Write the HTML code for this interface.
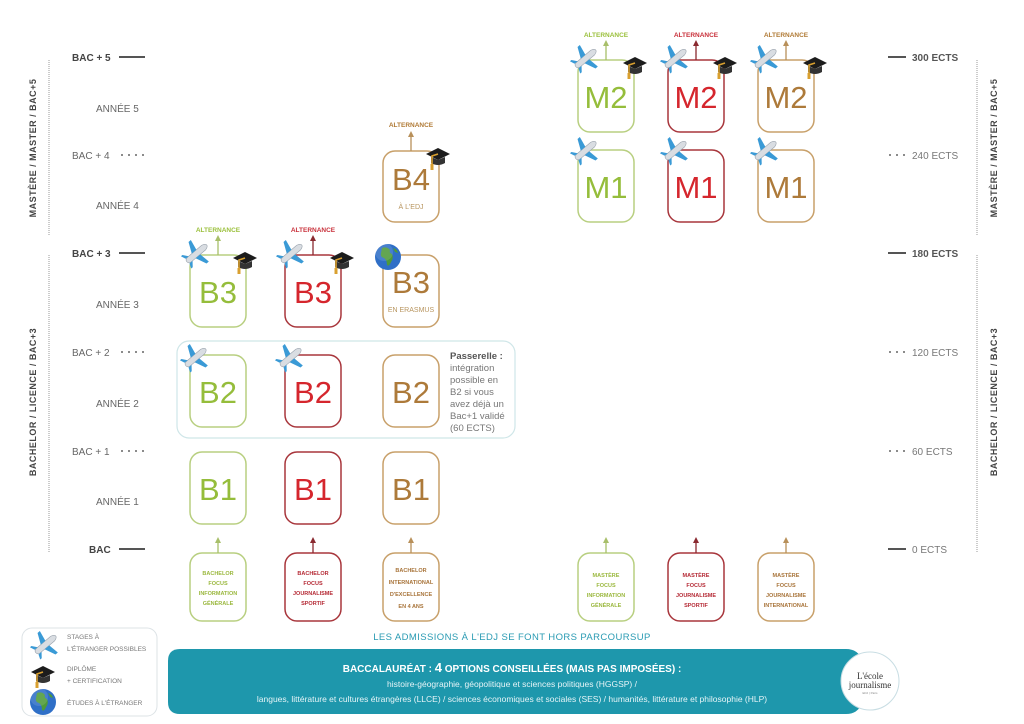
<!DOCTYPE html>
<html><head><meta charset="utf-8"><style>
html,body{margin:0;padding:0;background:#fff;}
svg{display:block;font-family:"Liberation Sans",sans-serif;}
</style></head><body>
<svg width="1024" height="724" viewBox="0 0 1024 724" xmlns="http://www.w3.org/2000/svg">
<defs>
<g id="plane">
 <g transform="rotate(-40 14 14)">
  <path d="M2 14 Q2 11 6 11 L24 11 Q28 12 28 14 Q28 16 24 17 L6 17 Q2 17 2 14Z" fill="#d9dde2" stroke="#9aa3ad" stroke-width="0.6"/>
  <path d="M11 11 L16 0 L19 0 L17 11Z M11 17 L16 28 L19 28 L17 17Z" fill="#3a9ad6"/>
  <path d="M3 11 L1 6 L3 6 L7 11Z M3 17 L1 22 L3 22 L7 17Z" fill="#3a9ad6"/>
 </g>
</g>
<g id="cap">
 <path d="M2 10 L14 4 L26 10 L14 16Z" fill="#1c1c1c"/>
 <path d="M7 13 L7 19 Q14 23 21 19 L21 13 L14 16Z" fill="#333"/>
 <path d="M14 10 L8 12 L8 22" stroke="#d9a030" stroke-width="1.6" fill="none"/>
 <rect x="6.5" y="20" width="3" height="6" fill="#d9a030"/>
</g>
<g id="globe">
 <circle cx="14" cy="14" r="13" fill="#2f6fc7"/>
 <path d="M8 5 Q13 3 16 7 Q15 10 18 11 Q20 15 17 19 Q15 24 13 22 Q13 17 10 15 Q6 14 7 10Z" fill="#4e9a3a"/>
 <path d="M19 5 Q23 6 24 10 L21 9Z" fill="#4e9a3a"/>
 <circle cx="10" cy="9" r="9" fill="#fff" opacity="0.12"/>
</g>
</defs>

<!-- side dotted lines -->
<g stroke="#999" stroke-width="1" stroke-dasharray="1 1">
 <line x1="49" y1="60" x2="49" y2="236"/>
 <line x1="49" y1="255" x2="49" y2="552"/>
 <line x1="977" y1="60" x2="977" y2="236"/>
 <line x1="977" y1="255" x2="977" y2="552"/>
</g>
<g font-size="9" font-weight="bold" fill="#444" text-anchor="middle" letter-spacing="0.5">
 <text transform="translate(36 148) rotate(-90)">MASTÈRE / MASTER / BAC+5</text>
 <text transform="translate(36 402) rotate(-90)">BACHELOR / LICENCE / BAC+3</text>
 <text transform="translate(997 148) rotate(-90)">MASTÈRE / MASTER / BAC+5</text>
 <text transform="translate(997 402) rotate(-90)">BACHELOR / LICENCE / BAC+3</text>
</g>

<!-- left scale -->
<g font-size="10" fill="#444">
 <text x="72" y="61" font-weight="bold">BAC + 5</text>
 <text x="72" y="257" font-weight="bold">BAC + 3</text>
 <text x="89" y="553" font-weight="bold">BAC</text>
 <g fill="#666">
 <text x="72" y="159">BAC + 4</text>
 <text x="72" y="356">BAC + 2</text>
 <text x="72" y="455">BAC + 1</text>
 <text x="96" y="112">ANNÉE 5</text>
 <text x="96" y="209">ANNÉE 4</text>
 <text x="96" y="308">ANNÉE 3</text>
 <text x="96" y="407">ANNÉE 2</text>
 <text x="96" y="505">ANNÉE 1</text>
 </g>
</g>
<g stroke="#555" stroke-width="2">
 <line x1="119" y1="57" x2="145" y2="57"/>
 <line x1="119" y1="253" x2="145" y2="253"/>
 <line x1="119" y1="549" x2="145" y2="549"/>
 <line x1="888" y1="57" x2="906" y2="57"/>
 <line x1="888" y1="253" x2="906" y2="253"/>
 <line x1="888" y1="549" x2="906" y2="549"/>
</g>
<g fill="#666">
 <circle cx="122" cy="155" r="1"/><circle cx="129" cy="155" r="1"/><circle cx="136" cy="155" r="1"/><circle cx="143" cy="155" r="1"/>
 <circle cx="122" cy="352" r="1"/><circle cx="129" cy="352" r="1"/><circle cx="136" cy="352" r="1"/><circle cx="143" cy="352" r="1"/>
 <circle cx="122" cy="451" r="1"/><circle cx="129" cy="451" r="1"/><circle cx="136" cy="451" r="1"/><circle cx="143" cy="451" r="1"/>
 <circle cx="890" cy="155" r="1"/><circle cx="897" cy="155" r="1"/><circle cx="904" cy="155" r="1"/>
 <circle cx="890" cy="352" r="1"/><circle cx="897" cy="352" r="1"/><circle cx="904" cy="352" r="1"/>
 <circle cx="890" cy="451" r="1"/><circle cx="897" cy="451" r="1"/><circle cx="904" cy="451" r="1"/>
</g>
<g font-size="10" fill="#555">
 <text x="912" y="61" font-weight="bold">300 ECTS</text>
 <text x="912" y="257" font-weight="bold">180 ECTS</text>
 <text x="912" y="159" fill="#777">240 ECTS</text>
 <text x="912" y="356" fill="#777">120 ECTS</text>
 <text x="912" y="455" fill="#777">60 ECTS</text>
 <text x="912" y="553" fill="#777">0 ECTS</text>
</g>

<!-- passerelle -->
<rect x="177" y="341" width="338" height="97" rx="12" fill="#fff" stroke="#cfe6e8" stroke-width="1.2"/>
<g font-size="9.5" fill="#777">
 <text x="450" y="359" font-weight="bold" fill="#555">Passerelle :</text>
 <text x="450" y="371">intégration</text>
 <text x="450" y="383">possible en</text>
 <text x="450" y="395">B2 si vous</text>
 <text x="450" y="407">avez déjà un</text>
 <text x="450" y="419">Bac+1 validé</text>
 <text x="450" y="431">(60 ECTS)</text>
</g>

<!-- boxes -->
<g fill="#fff" stroke-width="1.5">
 <g stroke="#b8cf80">
  <rect x="190" y="255" width="56" height="72" rx="12"/>
  <rect x="190" y="355" width="56" height="72" rx="12"/>
  <rect x="190" y="452" width="56" height="72" rx="12"/>
  <rect x="190" y="553" width="56" height="68" rx="12"/>
  <rect x="578" y="60" width="56" height="72" rx="12"/>
  <rect x="578" y="150" width="56" height="72" rx="12"/>
  <rect x="578" y="553" width="56" height="68" rx="12"/>
 </g>
 <g stroke="#a8363c">
  <rect x="285" y="255" width="56" height="72" rx="12"/>
  <rect x="285" y="355" width="56" height="72" rx="12"/>
  <rect x="285" y="452" width="56" height="72" rx="12"/>
  <rect x="285" y="553" width="56" height="68" rx="12"/>
  <rect x="668" y="60" width="56" height="72" rx="12"/>
  <rect x="668" y="150" width="56" height="72" rx="12"/>
  <rect x="668" y="553" width="56" height="68" rx="12"/>
 </g>
 <g stroke="#c8a06a">
  <rect x="383" y="151" width="56" height="71" rx="12"/>
  <rect x="383" y="255" width="56" height="72" rx="12"/>
  <rect x="383" y="355" width="56" height="72" rx="12"/>
  <rect x="383" y="452" width="56" height="72" rx="12"/>
  <rect x="383" y="553" width="56" height="68" rx="12"/>
  <rect x="758" y="60" width="56" height="72" rx="12"/>
  <rect x="758" y="150" width="56" height="72" rx="12"/>
  <rect x="758" y="553" width="56" height="68" rx="12"/>
 </g>
</g>

<g font-size="31" text-anchor="middle">
 <g fill="#95bd3b">
  <text x="218" y="303">B3</text><text x="218" y="403">B2</text><text x="218" y="500">B1</text>
  <text x="606" y="108">M2</text><text x="606" y="198">M1</text>
 </g>
 <g fill="#d5262d">
  <text x="313" y="303">B3</text><text x="313" y="403">B2</text><text x="313" y="500">B1</text>
  <text x="696" y="108">M2</text><text x="696" y="198">M1</text>
 </g>
 <g fill="#ad7a3a">
  <text x="411" y="190">B4</text><text x="411" y="293">B3</text><text x="411" y="403">B2</text><text x="411" y="500">B1</text>
  <text x="786" y="108">M2</text><text x="786" y="198">M1</text>
 </g>
</g>
<g font-size="7" fill="#b8955f" text-anchor="middle">
 <text x="411" y="209">À L'EDJ</text>
 <text x="411" y="312">EN ERASMUS</text>
</g>

<!-- programme labels -->
<g font-size="5.5" font-weight="bold" text-anchor="middle">
 <g fill="#9bb83f">
  <text x="218" y="575">BACHELOR</text><text x="218" y="585">FOCUS</text><text x="218" y="595">INFORMATION</text><text x="218" y="605">GÉNÉRALE</text>
  <text x="606" y="577">MASTÈRE</text><text x="606" y="587">FOCUS</text><text x="606" y="597">INFORMATION</text><text x="606" y="607">GÉNÉRALE</text>
 </g>
 <g fill="#b52a35">
  <text x="313" y="575">BACHELOR</text><text x="313" y="585">FOCUS</text><text x="313" y="595">JOURNALISME</text><text x="313" y="605">SPORTIF</text>
  <text x="696" y="577">MASTÈRE</text><text x="696" y="587">FOCUS</text><text x="696" y="597">JOURNALISME</text><text x="696" y="607">SPORTIF</text>
 </g>
 <g fill="#a8743a">
  <text x="411" y="572">BACHELOR</text><text x="411" y="584">INTERNATIONAL</text><text x="411" y="596">D'EXCELLENCE</text><text x="411" y="608">EN 4 ANS</text>
  <text x="786" y="577">MASTÈRE</text><text x="786" y="587">FOCUS</text><text x="786" y="597">JOURNALISME</text><text x="786" y="607">INTERNATIONAL</text>
 </g>
</g>

<!-- arrows -->
<g stroke-width="1.3" fill="none">
 <g stroke="#a8bf6a"><line x1="218" y1="255" x2="218" y2="240"/><line x1="218" y1="553" x2="218" y2="542"/><line x1="606" y1="60" x2="606" y2="45"/><line x1="606" y1="553" x2="606" y2="542"/></g>
 <g stroke="#8a2a30"><line x1="313" y1="255" x2="313" y2="240"/><line x1="313" y1="553" x2="313" y2="542"/><line x1="696" y1="60" x2="696" y2="45"/><line x1="696" y1="553" x2="696" y2="542"/></g>
 <g stroke="#b8905a"><line x1="411" y1="151" x2="411" y2="136"/><line x1="411" y1="553" x2="411" y2="542"/><line x1="786" y1="60" x2="786" y2="45"/><line x1="786" y1="553" x2="786" y2="542"/></g>
</g>
<g>
 <g fill="#a8bf6a"><path d="M215 241 L218 235 L221 241Z"/><path d="M215 543 L218 537 L221 543Z"/><path d="M603 46 L606 40 L609 46Z"/><path d="M603 543 L606 537 L609 543Z"/></g>
 <g fill="#8a2a30"><path d="M310 241 L313 235 L316 241Z"/><path d="M310 543 L313 537 L316 543Z"/><path d="M693 46 L696 40 L699 46Z"/><path d="M693 543 L696 537 L699 543Z"/></g>
 <g fill="#b8905a"><path d="M408 137 L411 131 L414 137Z"/><path d="M408 543 L411 537 L414 543Z"/><path d="M783 46 L786 40 L789 46Z"/><path d="M783 543 L786 537 L789 543Z"/></g>
</g>
<g font-size="6.5" font-weight="bold" text-anchor="middle">
 <text x="218" y="232" fill="#9bc03c">ALTERNANCE</text>
 <text x="313" y="232" fill="#c8303a">ALTERNANCE</text>
 <text x="411" y="127" fill="#b07a35">ALTERNANCE</text>
 <text x="606" y="37" fill="#9bc03c">ALTERNANCE</text>
 <text x="696" y="37" fill="#c8303a">ALTERNANCE</text>
 <text x="786" y="37" fill="#b07a35">ALTERNANCE</text>
</g>

<!-- icons -->
<use href="#plane" x="182" y="240"/>
<use href="#plane" x="277" y="240"/>
<use href="#plane" x="181" y="344"/>
<use href="#plane" x="276" y="344"/>
<use href="#plane" x="571" y="45"/>
<use href="#plane" x="661" y="45"/>
<use href="#plane" x="751" y="45"/>
<use href="#plane" x="571" y="137"/>
<use href="#plane" x="661" y="137"/>
<use href="#plane" x="751" y="137"/>
<use href="#cap" x="231" y="248"/>
<use href="#cap" x="328" y="248"/>
<use href="#cap" x="424" y="144"/>
<use href="#cap" x="621" y="53"/>
<use href="#cap" x="711" y="53"/>
<use href="#cap" x="801" y="53"/>
<use href="#globe" x="374" y="243"/>

<!-- legend -->
<rect x="22" y="628" width="135" height="88" rx="10" fill="#fff" stroke="#dde3e6" stroke-width="1"/>
<use href="#plane" x="31" y="631"/>
<use href="#cap" x="29" y="662"/>
<use href="#globe" x="29" y="688"/>
<g font-size="6.5" fill="#777">
 <text x="67" y="639">STAGES À</text>
 <text x="67" y="651">L'ÉTRANGER POSSIBLES</text>
 <text x="67" y="671">DIPLÔME</text>
 <text x="67" y="683">+ CERTIFICATION</text>
 <text x="67" y="705">ÉTUDES À L'ÉTRANGER</text>
</g>

<!-- bottom -->
<text x="512" y="640" text-anchor="middle" font-size="9.5" fill="#2a9bb3" letter-spacing="0.4">LES ADMISSIONS À L'EDJ SE FONT HORS PARCOURSUP</text>
<path d="M180 649 L846 649 Q858 649 862 660 L862 703 Q858 714 846 714 L180 714 Q168 714 168 702 L168 661 Q168 649 180 649Z" fill="#1e97ac"/>
<text x="512" y="672" text-anchor="middle" font-size="10" font-weight="bold" fill="#fff">BACCALAURÉAT : <tspan font-size="13">4</tspan> OPTIONS CONSEILLÉES (MAIS PAS IMPOSÉES) :</text>
<text x="512" y="687" text-anchor="middle" font-size="8.5" fill="#e6f4f7">histoire-géographie, géopolitique et sciences politiques (HGGSP) /</text>
<text x="512" y="702" text-anchor="middle" font-size="8.5" fill="#e6f4f7">langues, littérature et cultures étrangères (LLCE) / sciences économiques et sociales (SES) / humanités, littérature et philosophie (HLP)</text>
<circle cx="870" cy="681" r="29" fill="#fff" stroke="#c8dde3" stroke-width="1"/>
<text x="870" y="679" text-anchor="middle" font-family="Liberation Serif, serif" font-size="9" fill="#333">L'école</text>
<text x="870" y="688" text-anchor="middle" font-family="Liberation Serif, serif" font-size="9" fill="#333">journalisme</text>
<text x="870" y="694" text-anchor="middle" font-size="3" fill="#888">EDJ | Paris</text>
</svg>
</body></html>
